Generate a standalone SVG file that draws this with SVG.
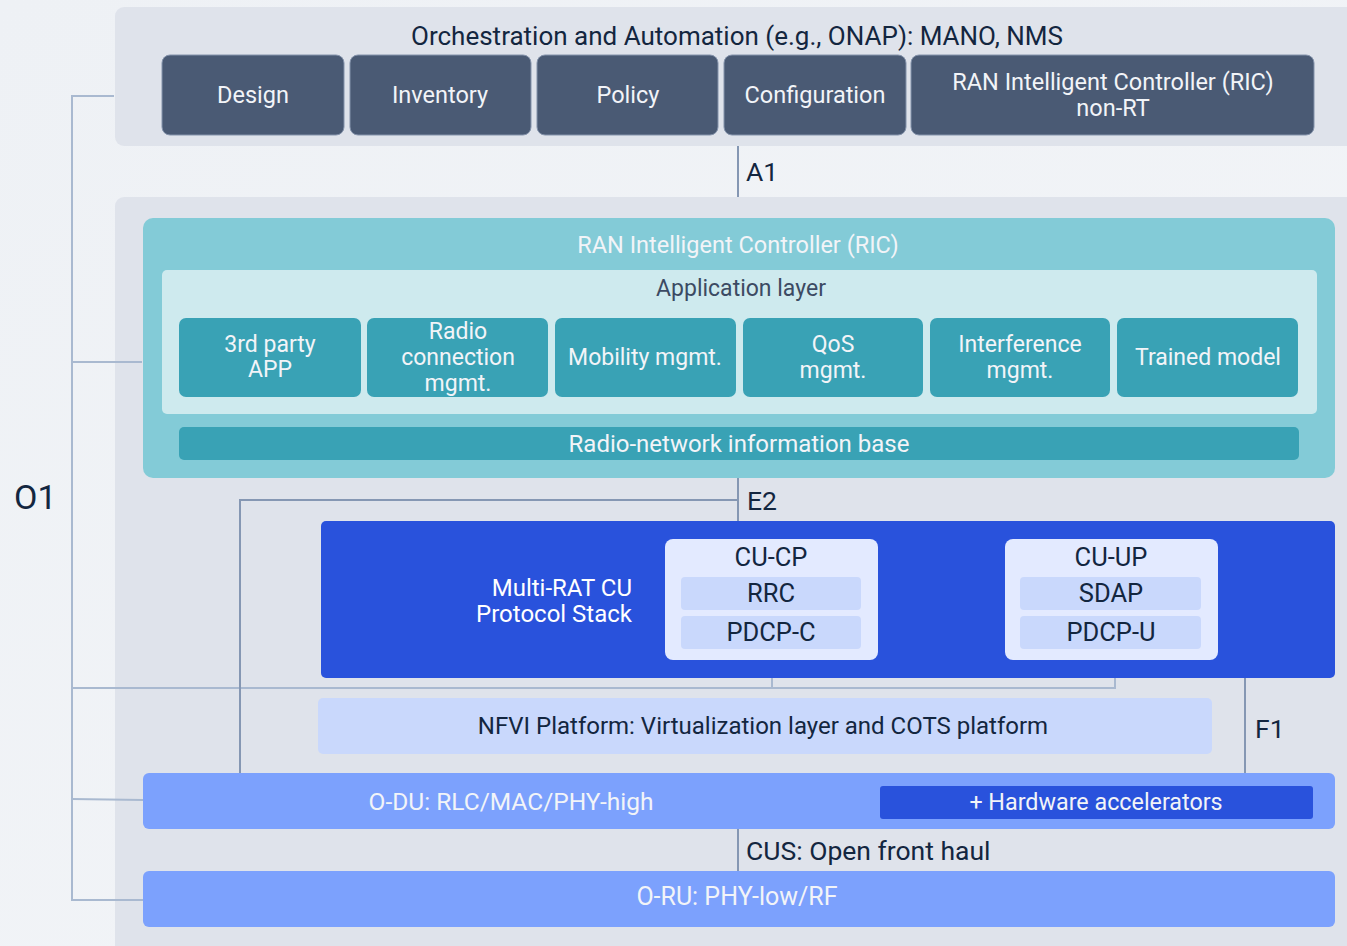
<svg xmlns="http://www.w3.org/2000/svg" width="1347" height="946" viewBox="0 0 1347 946">
<defs>
<linearGradient id="bg" x1="0" y1="0" x2="1" y2="1">
<stop offset="0" stop-color="#eef1f5"/>
<stop offset="1" stop-color="#f3f5f8"/>
</linearGradient>
<style>
text{font-family:Roboto,"Liberation Sans",sans-serif;}
.panel{fill:#dfe3eb;}
.orch{fill:#4a5a74;stroke:#8493ab;stroke-width:1;}
.wt{fill:#f2f4f8;font-size:23.5px;text-anchor:middle;}
.ap{font-size:23px;}
.dk{fill:#13263f;text-anchor:middle;}
.cu{font-size:25.5px;}
.app{fill:#39a2b5;}
.cubox{fill:#e3eaff;}
.sub{fill:#c9d8fc;}
.o1{fill:none;stroke:#a9b9d0;stroke-width:2;}
.if{fill:none;stroke:#8597b3;stroke-width:2;}
.lbl{fill:#13263f;font-size:26.5px;}
</style>
</defs>
<rect width="1347" height="946" fill="url(#bg)"/>
<g id="panels">
<rect class="panel" x="115" y="7" width="1250" height="139" rx="9"/>
<rect class="panel" x="115" y="197" width="1250" height="770" rx="9"/>
</g>
<g id="connectors">
<polyline class="o1" points="114,96 72,96 72,900 143,900"/>
<line class="o1" x1="72" y1="362" x2="142" y2="362"/>
<line class="o1" x1="72" y1="799" x2="143" y2="800"/>
<polyline class="o1" points="72,688 1115,688 1115,660"/>
<line class="o1" x1="772" y1="660" x2="772" y2="688"/>
<line class="if" x1="738" y1="146" x2="738" y2="197"/>
<line class="if" x1="738" y1="478" x2="738" y2="521"/>
<polyline class="if" points="738,500 240,500 240,773"/>
<line class="if" x1="1245" y1="678" x2="1245" y2="773"/>
<line class="if" x1="738" y1="829" x2="738" y2="871"/>
<text class="lbl" x="746" y="181">A1</text>
<text class="lbl" x="747" y="510">E2</text>
<text x="925" y="583" style="fill:#ffffff;font-size:24px">E1</text>
<text class="lbl" x="1255" y="738">F1</text>
<text class="lbl" x="746" y="860">CUS: Open front haul</text>
<text x="14" y="509" style="fill:#13263f;font-size:34px">O1</text>
</g>
<g id="orchestration">
<text class="dk" x="737" y="45" style="font-size:26px">Orchestration and Automation (e.g., ONAP): MANO, NMS</text>
</g>
<g id="design"><rect class="orch" x="162" y="55" width="182" height="80" rx="8"/><text class="wt" x="253" y="103">Design</text></g>
<g id="inventory"><rect class="orch" x="350" y="55" width="181" height="80" rx="8"/><text class="wt" x="440" y="103">Inventory</text></g>
<g id="policy"><rect class="orch" x="537" y="55" width="181" height="80" rx="8"/><text class="wt" x="628" y="103">Policy</text></g>
<g id="configuration"><rect class="orch" x="724" y="55" width="182" height="80" rx="8"/><text class="wt" x="815" y="103">Configuration</text></g>
<g id="ric-nonrt"><rect class="orch" x="911" y="55" width="403" height="80" rx="8"/><text class="wt" x="1113" y="90">RAN Intelligent Controller (RIC)</text><text class="wt" x="1113" y="116">non-RT</text></g>
<g id="ric">
<rect x="143" y="218" width="1192" height="260" rx="10" fill="#83cbd7"/>
<text class="wt" x="738" y="253">RAN Intelligent Controller (RIC)</text>
</g>
<g id="app-layer">
<rect x="162" y="270" width="1155" height="144" rx="5" fill="#ceeaee"/>
<text x="741" y="296" style="fill:#3c4a63;font-size:23px;text-anchor:middle">Application layer</text>
</g>
<g id="app-3rd"><rect class="app" x="179" y="318" width="182" height="79" rx="7"/><text class="wt ap" x="270" y="352">3rd party</text><text class="wt ap" x="270" y="377">APP</text></g>
<g id="app-rcm"><rect class="app" x="367" y="318" width="181" height="79" rx="7"/><text class="wt ap" x="458" y="339">Radio</text><text class="wt ap" x="458" y="365">connection</text><text class="wt ap" x="458" y="391">mgmt.</text></g>
<g id="app-mob"><rect class="app" x="555" y="318" width="181" height="79" rx="7"/><text class="wt ap" x="645" y="365">Mobility mgmt.</text></g>
<g id="app-qos"><rect class="app" x="743" y="318" width="180" height="79" rx="7"/><text class="wt ap" x="833" y="352">QoS</text><text class="wt ap" x="833" y="378">mgmt.</text></g>
<g id="app-int"><rect class="app" x="930" y="318" width="180" height="79" rx="7"/><text class="wt ap" x="1020" y="352">Interference</text><text class="wt ap" x="1020" y="378">mgmt.</text></g>
<g id="app-trained"><rect class="app" x="1117" y="318" width="181" height="79" rx="7"/><text class="wt ap" x="1208" y="365">Trained model</text></g>
<g id="rnib"><rect class="app" x="179" y="427" width="1120" height="33" rx="5"/><text class="wt" x="739" y="452" style="font-size:24px">Radio-network information base</text></g>
<g id="cu">
<rect x="321" y="521" width="1014" height="157" rx="5" fill="#2952dc"/>
<text x="632" y="596" style="fill:#ffffff;font-size:24px;text-anchor:end">Multi-RAT CU</text>
<text x="632" y="622" style="fill:#ffffff;font-size:24px;text-anchor:end">Protocol Stack</text>
</g>
<g id="cu-cp">
<rect class="cubox" x="665" y="539" width="213" height="121" rx="8"/>
<text class="dk cu" x="771" y="566">CU-CP</text>
<rect class="sub" x="681" y="577" width="180" height="33" rx="4"/>
<text class="dk cu" x="771" y="602">RRC</text>
<rect class="sub" x="681" y="616" width="180" height="33" rx="4"/>
<text class="dk cu" x="771" y="641">PDCP-C</text>
</g>
<g id="cu-up">
<rect class="cubox" x="1005" y="539" width="213" height="121" rx="8"/>
<text class="dk cu" x="1111" y="566">CU-UP</text>
<rect class="sub" x="1020" y="577" width="181" height="33" rx="4"/>
<text class="dk cu" x="1111" y="602">SDAP</text>
<rect class="sub" x="1020" y="616" width="181" height="33" rx="4"/>
<text class="dk cu" x="1111" y="641">PDCP-U</text>
</g>
<g id="nfvi">
<rect class="sub" x="318" y="698" width="894" height="56" rx="5"/>
<text class="dk" x="763" y="734" style="font-size:24px">NFVI Platform: Virtualization layer and COTS platform</text>
</g>
<g id="odu">
<rect x="143" y="773" width="1192" height="56" rx="6" fill="#7ca1fd"/>
<text class="wt" x="511" y="810" style="font-size:24.5px">O-DU: RLC/MAC/PHY-high</text>
<rect x="880" y="786" width="433" height="33" rx="3" fill="#2952dc"/>
<text class="wt" x="1096" y="810" style="font-size:23.3px">+ Hardware accelerators</text>
</g>
<g id="oru">
<rect x="143" y="871" width="1192" height="56" rx="6" fill="#7ca1fd"/>
<text class="wt" x="737" y="905" style="font-size:25px">O-RU: PHY-low/RF</text>
</g>
</svg>
